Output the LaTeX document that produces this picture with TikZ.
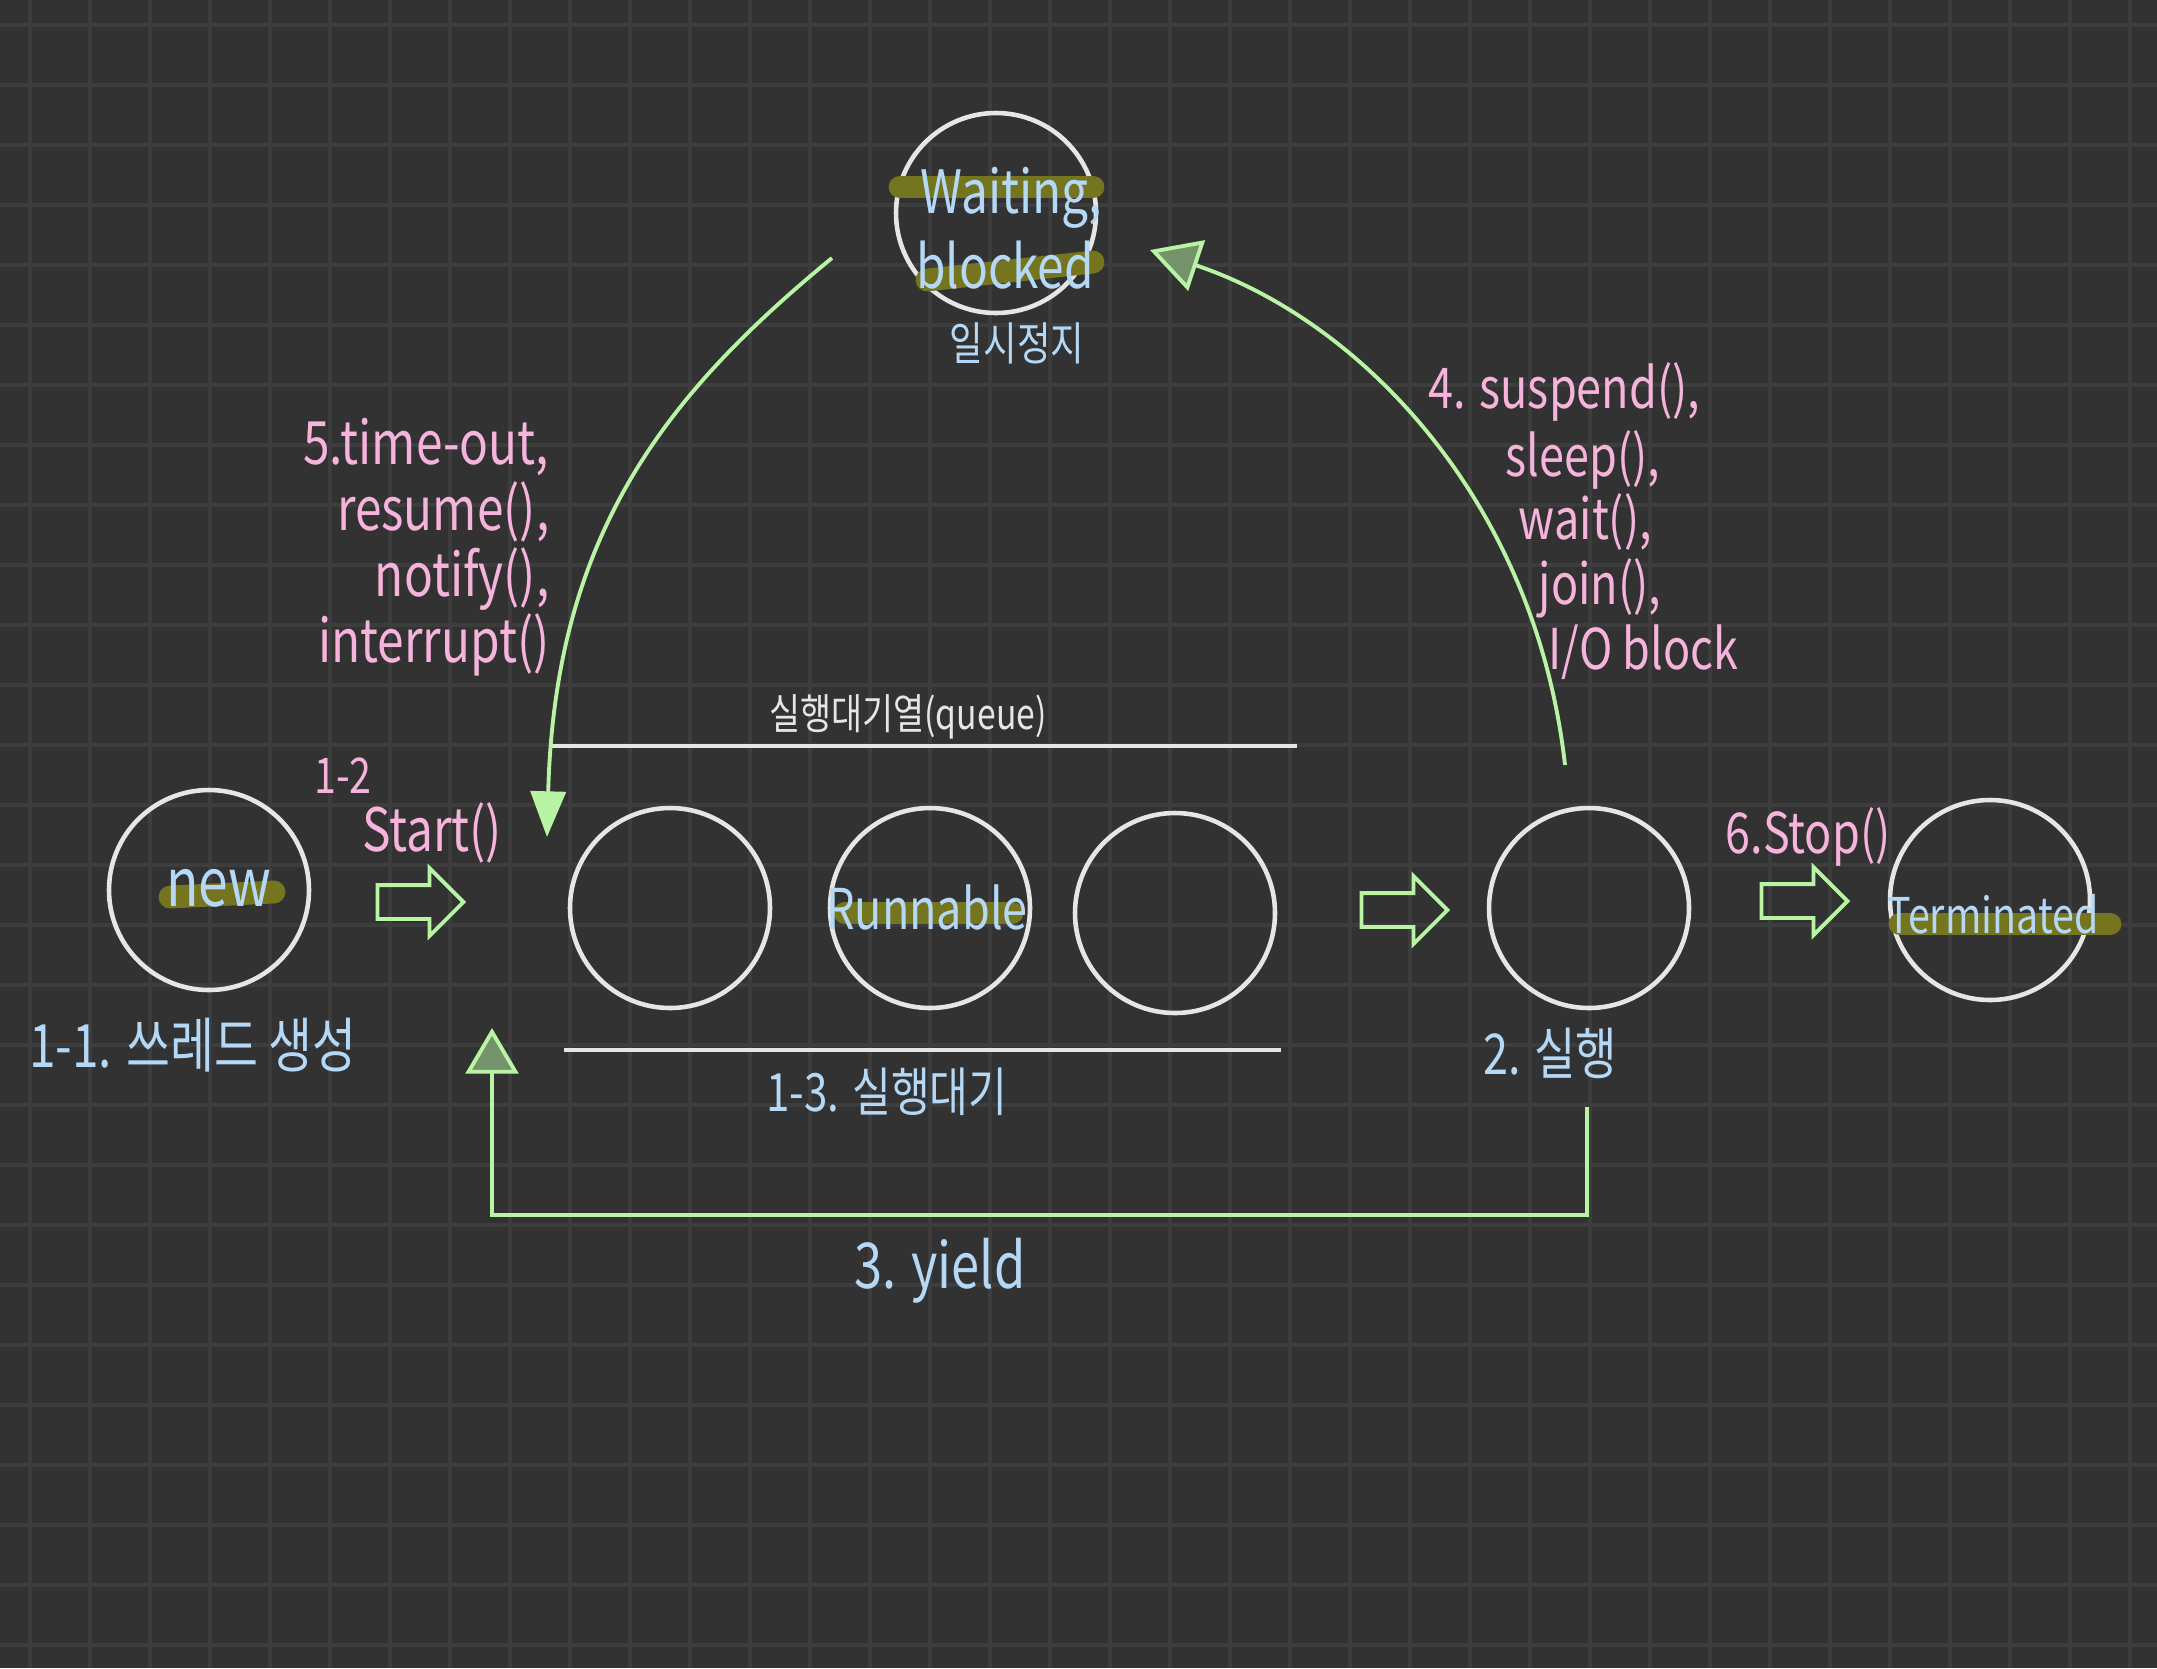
\documentclass[tikz,border=0pt]{standalone}
\usepackage{fontspec}
\setmainfont[FakeStretch=0.8]{Noto Sans CJK KR}
\usetikzlibrary{arrows.meta,shapes.arrows}

\definecolor{bgc}{HTML}{323232}
\definecolor{gridc}{HTML}{3D3D3D}
\definecolor{penwhite}{HTML}{E6E6E6}
\definecolor{pengreen}{HTML}{B8F4A4}
\definecolor{penpink}{HTML}{F6B4DC}
\definecolor{penblue}{HTML}{B4D8F6}
\definecolor{marker}{HTML}{75741F}

\newcommand{\hw}[1]{\fontsize{#1}{#1}\selectfont}

\tikzset{
    thread/.style={circle, draw=penwhite, line width=1.3pt, minimum size=2cm, inner sep=0pt},
    bigarrow/.style={single arrow, draw=pengreen, line width=1.1pt, inner sep=0pt,
                     text height=0.15cm, text depth=0.15cm, text width=0pt,
                     minimum height=0.86cm, single arrow head extend=0.17cm},
    flow/.style={pengreen, line width=1.1pt},
    hilite/.style={marker, line width=6.5pt, line cap=round},
    queueline/.style={penwhite, line width=1.2pt},
    bluetxt/.style={text=penblue, inner sep=0pt},
    pinktxt/.style={text=penpink, inner sep=0pt},
}

\begin{document}
\begin{tikzpicture}

    %----- PAPER -----
    \useasboundingbox (0,0) rectangle (21.57,-16.68);
    \fill[bgc] (0,0) rectangle (21.57,-16.68);
    \foreach \gx in {0,...,35}
        \draw[gridc, line width=0.9pt] ({0.3+0.6*\gx},0) -- ++(0,-16.68);
    \foreach \gy in {0,...,27}
        \draw[gridc, line width=0.9pt] (0,{-0.25-0.6*\gy}) -- ++(21.57,0);

    %----- STATES -----
    \node[thread] (new)  at (2.09,-8.90)  {};
    \node[thread] (q1)   at (6.70,-9.08)  {};
    \node[thread] (q2)   at (9.30,-9.08)  {};
    \node[thread] (q3)   at (11.75,-9.13) {};
    \node[thread] (run)  at (15.89,-9.08) {};
    \node[thread] (term) at (19.90,-9.00) {};
    \node[thread] (wait) at (9.96,-2.13)  {};

    %----- MARKER STROKES (under the names) -----
    \draw[hilite] (1.70,-8.97) -- (2.74,-8.92);
    \draw[hilite] (8.45,-9.13) -- (10.12,-9.13);
    \draw[hilite] (19.00,-9.24) -- (21.10,-9.24);
    \draw[hilite] (9.00,-1.87) -- (10.93,-1.87);
    \draw[hilite] (9.27,-2.80) -- (10.93,-2.62);

    %----- STATE NAMES -----
    \node[bluetxt, font=\hw{19}] (newtxt)   at (2.19,-8.88)  {new};
    \node[bluetxt, font=\hw{16}] (q2txt)    at (9.27,-9.07)  {Runnable};
    \node[bluetxt, font=\hw{14}] (termtxt)  at (19.93,-9.14) {Terminated};
    \node[bluetxt, font=\hw{17}] (waittxt)  at (10.11,-1.98) {Waiting,};
    \node[bluetxt, font=\hw{17}] (blocktxt) at (10.05,-2.65) {blocked};
    \node[bluetxt, font=\hw{13}] (pausetxt) at (10.17,-3.43) {일시정지};

    %----- QUEUE -----
    \draw[queueline] (5.50,-7.46) -- (12.97,-7.46);
    \draw[queueline] (5.64,-10.50) -- (12.81,-10.50);
    \node[text=penwhite, inner sep=0pt, font=\hw{12}] (queuetxt) at (9.08,-7.17) {실행대기열(queue)};
    \node[bluetxt, font=\hw{15}] (readytxt) at (8.87,-10.92) {1-3. 실행대기};

    %----- STEP LABELS -----
    \node[bluetxt, font=\hw{17}] (createtxt) at (1.93,-10.45) {1-1. 쓰레드 생성};
    \node[pinktxt, font=\hw{14}] (startnum)  at (3.43,-7.76)  {1-2};
    \node[pinktxt, font=\hw{17}] (starttxt)  at (4.32,-8.33)  {Start()};
    \node[bluetxt, font=\hw{16}] (runtxt)    at (15.50,-10.53) {2. 실행};
    \node[bluetxt, font=\hw{18}] (yieldtxt)  at (9.40,-12.71) {3. yield};
    \node[pinktxt, font=\hw{16}] (stoptxt)   at (18.08,-8.37) {6.Stop()};

    \node[pinktxt, font=\fontsize{17}{18.8}\selectfont, align=right, anchor=north east]
        (resumetxt) at (5.50,-4.17)
        {5.time-out,\\ resume(),\\ notify(),\\ interrupt()};

    \node[pinktxt, font=\hw{16}, anchor=west] (sus1) at (14.28,-3.92) {4. suspend(),};
    \node[pinktxt, font=\hw{16}, anchor=west] (sus2) at (15.05,-4.60) {sleep(),};
    \node[pinktxt, font=\hw{16}, anchor=west] (sus3) at (15.18,-5.22) {wait(),};
    \node[pinktxt, font=\hw{16}, anchor=west] (sus4) at (15.38,-5.88) {join(),};
    \node[pinktxt, font=\hw{16}, anchor=west] (sus5) at (15.48,-6.52) {I/O block};

    %----- BLOCK ARROWS -----
    \node[bigarrow] (toq)   at (4.12,-9.02)  {};
    \node[bigarrow] (torun) at (13.96,-9.10) {};
    \node[bigarrow] (toend) at (17.96,-9.01) {};

    %----- WAITING <-> RUNNABLE -----
    \coordinate (resumefrom)  at (8.32,-2.58);
    \coordinate (resumeto)    at (5.47,-8.37);
    \coordinate (suspendfrom) at (15.65,-7.65);
    \coordinate (suspendto)   at (11.50,-2.50);

    \draw[flow, -{Triangle[length=13pt, width=10pt]}]
        (resumefrom) .. controls (6.65,-3.95) and (5.55,-5.35) .. (resumeto);

    \draw[flow, -{Triangle[length=14pt, width=15pt, fill=pengreen!50!bgc]}]
        (suspendfrom) .. controls (15.35,-5.00) and (13.60,-3.20) .. (suspendto);

    %----- YIELD LOOP -----
    \coordinate (yieldfrom) at (15.87,-11.07);
    \coordinate (yieldto)   at (4.92,-10.28);

    \draw[flow, -{Triangle[length=13pt, width=15pt, fill=pengreen!50!bgc]}]
        (yieldfrom) -- (15.87,-12.15) -| (yieldto);

\end{tikzpicture}
\end{document}
